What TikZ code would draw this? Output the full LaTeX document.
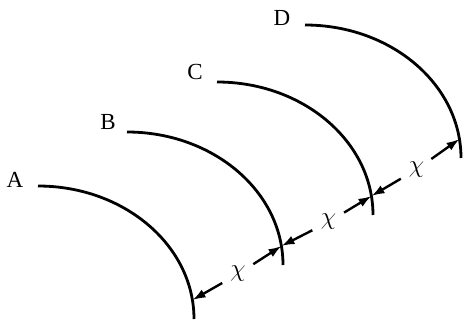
\documentclass[tikz,border=0pt]{standalone}
\usepackage{fontspec}
\setmainfont{Liberation Serif}
\usetikzlibrary{arrows.meta,calc}
\begin{document}
\begin{tikzpicture}[x=1pt,y=1pt,
  curve/.style={line width=2.8pt},
  dimline/.style={line width=2.4pt,-{Latex[length=13pt,width=9pt]}},
  lbl/.style={font=\fontsize{23}{26}\selectfont},
  chilbl/.style={circle,inner sep=0pt,minimum size=36pt,font=\fontsize{25}{28}\selectfont}]
\useasboundingbox (0,0) rectangle (463,322);
% arcs
\draw[curve] (38,136) arc[start angle=90,end angle=0,x radius=156,y radius=133];
\draw[curve] (127,190) arc[start angle=90,end angle=0,x radius=156,y radius=133];
\draw[curve] (217,240) arc[start angle=90,end angle=0,x radius=156,y radius=133];
\draw[curve] (305,297) arc[start angle=90,end angle=0,x radius=156,y radius=133];
% labels
\node[lbl] (la) at (15,142) {A};
\node[lbl] (lb) at (108,200) {B};
\node[lbl] (lc) at (195,250) {C};
\node[lbl] (ld) at (282,304) {D};
% arrow tips on arcs
\coordinate (tA) at (192.5,22);
\coordinate (tB) at (281.5,76);
\coordinate (tC) at (371.5,126);
\coordinate (tD) at (459.5,183);
% chi labels
\node[chilbl] (x1) at ($(tA)!0.5!(tB)+(1,-1)$) {$\chi$};
\node[chilbl] (x2) at ($(tB)!0.5!(tC)+(2,-1)$) {$\chi$};
\node[chilbl] (x3) at ($(tC)!0.5!(tD)+(1,-2)$) {$\chi$};
% dimension lines
\draw[dimline] (x1) -- (tA);
\draw[dimline] (x1) -- (tB);
\draw[dimline] (x2) -- (tB);
\draw[dimline] (x2) -- (tC);
\draw[dimline] (x3) -- (tC);
\draw[dimline] (x3) -- (tD);
\end{tikzpicture}
\end{document}
